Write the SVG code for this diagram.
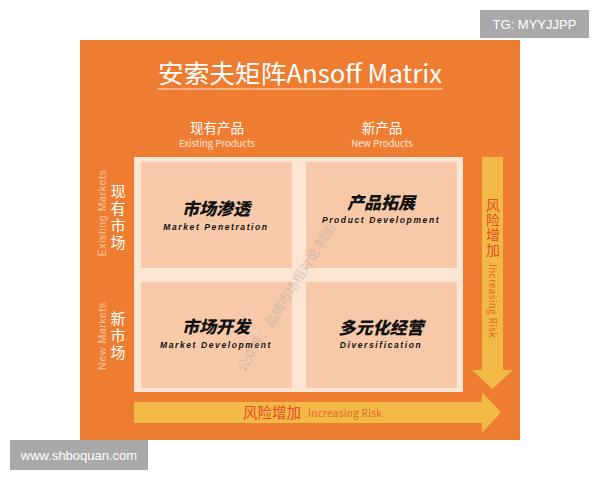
<svg xmlns="http://www.w3.org/2000/svg" width="600" height="480" viewBox="0 0 600 480">
<style>
.cn{font-family:"Noto Sans CJK SC","Noto Sans",sans-serif}
.en{font-family:"Noto Sans CJK SC","Noto Sans",sans-serif}
.ar{font-family:"Liberation Sans",Arial,sans-serif}
.vt{writing-mode:tb;glyph-orientation-vertical:0}
.cellcn{font-family:"Noto Sans CJK SC",sans-serif;font-weight:900;font-size:17px;fill:#111;text-anchor:middle;font-style:italic}
.cellen{font-family:"Liberation Sans",sans-serif;font-weight:bold;font-size:8.5px;fill:#111;text-anchor:middle;letter-spacing:1.6px;font-style:italic}
.cell{fill:#f7c9a9}
.wm{font-family:"Liberation Sans",sans-serif;font-size:13px;fill:#fff;text-anchor:middle}
</style>
<rect width="600" height="480" fill="#ffffff"/>
<rect x="80" y="40" width="440" height="400" fill="#ee7d32"/>
<g id="title">
<text x="300" y="83" class="cn" font-size="25" fill="#fff" text-anchor="middle" textLength="284" lengthAdjust="spacingAndGlyphs">安索夫矩阵Ansoff Matrix</text>
<line x1="157" y1="89" x2="443" y2="89" stroke="#fbe0cc" stroke-width="1.2"/>
</g>
<g id="col-existing">
<text x="217" y="133" class="cn" font-size="13.5" fill="#fff" text-anchor="middle">现有产品</text>
<text x="217" y="147" class="en" font-size="9.5" fill="#fde6d6" text-anchor="middle">Existing Products</text>
</g>
<g id="col-new">
<text x="382" y="133" class="cn" font-size="13.5" fill="#fff" text-anchor="middle">新产品</text>
<text x="382" y="147" class="en" font-size="9.5" fill="#fde6d6" text-anchor="middle">New Products</text>
</g>
<g id="row-existing">
<text x="118" y="218" class="cn vt" font-size="15" fill="#fff" text-anchor="middle" letter-spacing="2">现有市场</text>
<text transform="translate(106,213) rotate(-90)" class="ar" font-size="10.5" fill="#f9c49e" text-anchor="middle" letter-spacing="0.6">Existing Markets</text>
</g>
<g id="row-new">
<text x="118" y="336" class="cn vt" font-size="15" fill="#fff" text-anchor="middle" letter-spacing="2">新市场</text>
<text transform="translate(106,336) rotate(-90)" class="ar" font-size="10.5" fill="#f9c49e" text-anchor="middle" letter-spacing="0.6">New Markets</text>
</g>
<rect x="134" y="157" width="329" height="235" fill="#fde5d4"/>
<g id="market-penetration">
<rect class="cell" x="141" y="162" width="151" height="106"/>
<text x="216" y="215" class="cellcn">市场渗透</text>
<text x="216" y="230" class="cellen">Market Penetration</text>
</g>
<g id="product-development">
<rect class="cell" x="306" y="162" width="151" height="106"/>
<text x="381" y="209" class="cellcn">产品拓展</text>
<text x="381" y="223" class="cellen">Product Development</text>
</g>
<g id="market-development">
<rect class="cell" x="141" y="282" width="151" height="106"/>
<text x="216" y="333" class="cellcn">市场开发</text>
<text x="216" y="348" class="cellen">Market Development</text>
</g>
<g id="diversification">
<rect class="cell" x="306" y="282" width="151" height="106"/>
<text x="381" y="334" class="cellcn">多元化经营</text>
<text x="381" y="348" class="cellen">Diversification</text>
</g>
<g id="connectors">
<path d="M482 157 H503 V370 H513 L492.5 389 L472 370 H482 Z" fill="#f1b945"/>
<path d="M134 402 H482 V392 L501 412.5 L482 433 V423 H134 Z" fill="#f1b945"/>
</g>
<g id="risk-vertical">
<text x="493" y="228" class="cn vt" font-size="14" fill="#e8472b" text-anchor="middle" letter-spacing="1">风险增加</text>
<text transform="translate(489,301) rotate(90)" class="en" font-size="10" fill="#e8642b" text-anchor="middle" letter-spacing="0.3">Increasing Risk</text>
</g>
<g id="risk-horizontal">
<text x="243" y="418" class="cn" font-size="14.5" fill="#e8472b">风险增加</text>
<text x="308" y="417" class="en" font-size="10" fill="#e8642b" letter-spacing="0.3">Increasing Risk</text>
</g>
<text transform="translate(290,300) rotate(-58)" class="cn" font-size="13" fill="#b0a8a0" fill-opacity="0.5" text-anchor="middle">公众号：品牌市场相对论 制图</text>
<g id="tg">
<rect x="480" y="10" width="109" height="28" fill="#a9a9a9"/>
<text x="534.5" y="29" class="wm">TG: MYYJJPP</text>
</g>
<g id="www">
<rect x="10" y="440" width="138" height="30" fill="#a9a9a9"/>
<text x="79" y="459.5" class="wm">www.shboquan.com</text>
</g>
</svg>
